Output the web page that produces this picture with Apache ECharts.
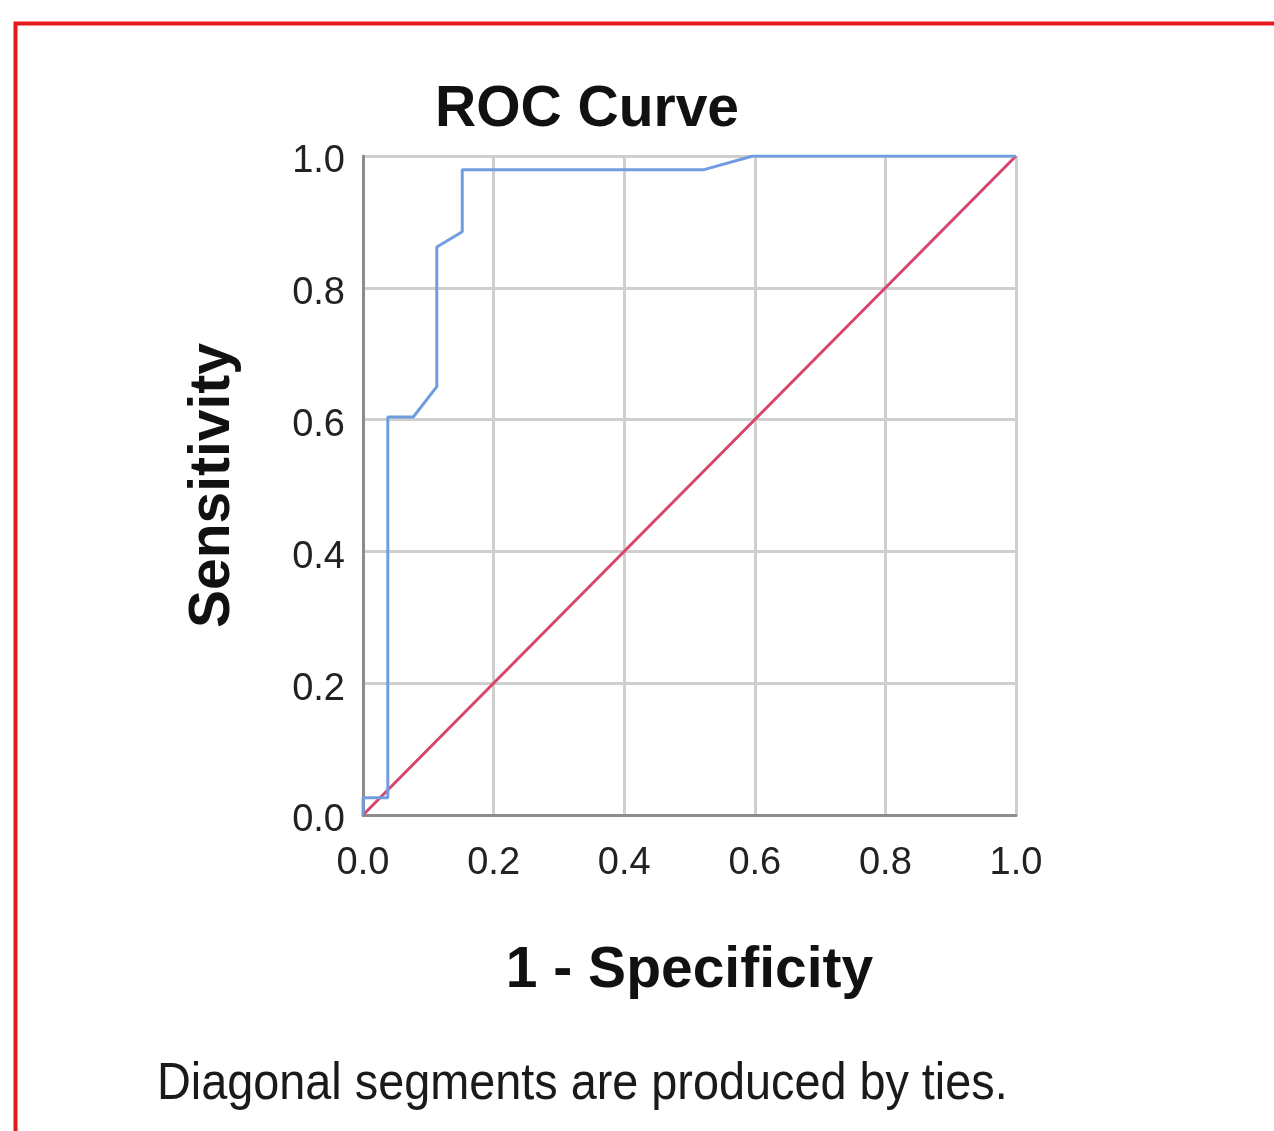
<!DOCTYPE html>
<html>
<head>
<meta charset="utf-8">
<script src="https://cdn.jsdelivr.net/npm/echarts@6/dist/echarts.min.js"></script>
<style>
html,body{margin:0;padding:0;background:#fff;}
#chart{width:1274px;height:1131px;}
</style>
</head>
<body>
<div id="chart"></div>
<script>
// ROC curve: 1 - Specificity (x) vs Sensitivity (y)
const rocFpr = [0, 0, 0.038, 0.038, 0.077, 0.113, 0.113, 0.152, 0.152, 0.521, 0.597, 1.0];
const rocTpr = [0, 0.026, 0.026, 0.604, 0.604, 0.65, 0.862, 0.885, 0.979, 0.979, 1.0, 1.0];
const refX = [0, 1];
const refY = [0, 1];
const tickLabels = ['0.0', '0.2', '0.4', '0.6', '0.8', '1.0'];
const titleText = 'ROC Curve';
const xName = '1 - Specificity';
const yName = 'Sensitivity';
const footnote = 'Diagonal segments are produced by ties.';

const rocData = rocFpr.map((x, i) => [x, rocTpr[i]]);
const refData = refX.map((x, i) => [x, refY[i]]);

const chart = echarts.init(document.getElementById('chart'), null, {renderer: 'canvas'});
const fmt = v => tickLabels[Math.round(v * 5)];
const fmtY = v => '{a|' + tickLabels[Math.round(v * 5)] + '}';

chart.setOption({
  backgroundColor: '#ffffff',
  animation: false,
  title: {
    text: titleText,
    left: 582, top: 77, textAlign: 'center',
    textStyle: {fontFamily: 'Liberation Sans, Arial', fontWeight: 'bold', fontSize: 57, color: '#111'}
  },
  grid: {left: 363, right: 258, top: 156, bottom: 316},
  xAxis: {
    type: 'value', min: 0, max: 1, interval: 0.2,
    name: xName, nameLocation: 'middle', nameGap: 128,
    nameTextStyle: {fontFamily: 'Liberation Sans, Arial', fontWeight: 'bold', fontSize: 57, color: '#111'},
    axisLine: {show: true, lineStyle: {color: '#8c8c8c', width: 3}},
    axisTick: {show: false},
    splitLine: {show: true, lineStyle: {color: '#cfcfcf', width: 3}},
    axisLabel: {formatter: fmt, margin: 30, fontFamily: 'Liberation Sans, Arial', fontSize: 38, color: '#222'}
  },
  yAxis: {
    type: 'value', min: 0, max: 1, interval: 0.2,
    name: yName, nameLocation: 'middle', nameGap: 121, nameRotate: 90,
    nameTextStyle: {fontFamily: 'Liberation Sans, Arial', fontWeight: 'bold', fontSize: 57, color: '#111'},
    axisLine: {show: true, lineStyle: {color: '#8c8c8c', width: 3}},
    axisTick: {show: false},
    splitLine: {show: true, lineStyle: {color: '#cfcfcf', width: 3}},
    axisLabel: {
      formatter: fmtY, margin: 18,
      rich: {a: {fontFamily: 'Liberation Sans, Arial', fontSize: 38, color: '#222', padding: [12, 0, 0, 0]}}
    }
  },
  series: [
    {
      type: 'line', data: refData, symbol: 'none', z: 3,
      lineStyle: {color: '#d8456c', width: 3}
    },
    {
      type: 'line', data: rocData, symbol: 'none', z: 4,
      lineStyle: {color: '#6f9de0', width: 3}
    }
  ],
  graphic: [
    {
      type: 'rect', z: 100, silent: true,
      shape: {x: 15.5, y: 23.5, width: 1300, height: 1200},
      style: {fill: 'none', stroke: '#e3191c', lineWidth: 4}
    },
    {
      type: 'text', x: 157, y: 1059, z: 100, scaleX: 0.9,
      style: {text: footnote, font: '52px "Liberation Sans", Arial', fill: '#1a1a1a'}
    }
  ]
});
</script>
</body>
</html>
